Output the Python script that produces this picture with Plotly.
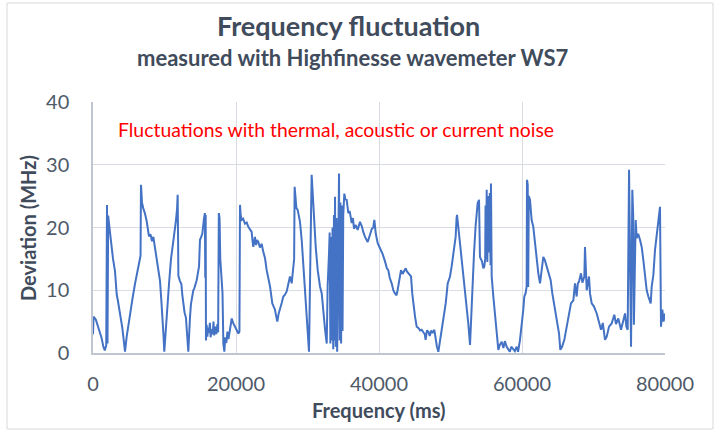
import plotly.graph_objects as go

# ---- data ----
time_ms = [
    0, 80, 400, 800, 1200, 1450, 1650, 1850, 1960, 2030, 2120, 2250, 2450, 2610, 2800, 3080, 3200, 3310, 3500, 3780,
    3950, 4100, 4300, 4475, 4710, 4900, 5175, 5500, 5870, 6100, 6340, 6570, 6650, 6710, 6850, 7040, 7250, 7510, 7700, 7830,
    8050, 8250, 8440, 8650, 8910, 9150, 9370, 9550, 9700, 9850, 9970, 10150, 10300, 10450, 10630, 10910, 11150, 11370, 11600, 11760,
    11840, 11900, 11940, 12150, 12360, 12500, 12630, 12800, 13000, 13150, 13330, 13570, 13700, 14030, 14170, 14500, 14830, 14960, 15290, 15520,
    15650, 15700, 15760, 15800, 15900, 16000, 16100, 16200, 16350, 16450, 16600, 16750, 16850, 16950, 17100, 17250, 17400, 17500, 17600, 17700,
    17800, 17900, 18000, 18110, 18180, 18230, 18370, 18500, 18650, 18800, 18950, 19100, 19250, 19400, 19600, 19860, 20100, 20330, 20480, 20560,
    20650, 20790, 21000, 21260, 21500, 21720, 21950, 22190, 22300, 22420, 22650, 22800, 22950, 23120, 23350, 23590, 23800, 24060, 24290, 24500,
    24760, 25080, 25250, 25450, 25600, 25780, 25950, 26150, 26400, 26620, 26850, 27090, 27300, 27550, 27790, 28020, 28130, 28200, 28300, 28450,
    28630, 28800, 28950, 29190, 29420, 29600, 29750, 30030, 30210, 30400, 30580, 30700, 30820, 30960, 31150, 31430, 31600, 31750, 31990, 32220,
    32460, 32690, 32820, 33010, 33100, 33200, 33300, 33400, 33500, 33600, 33700, 33800, 33850, 33950, 34050, 34150, 34300, 34410, 34500, 34600,
    34700, 34800, 34900, 35000, 35150, 35300, 35480, 35710, 35900, 36180, 36350, 36510, 36750, 37020, 37340, 37600, 37800, 38040, 38420, 38740,
    39000, 39200, 39350, 39550, 39820, 40140, 40500, 40840, 41100, 41300, 41500, 41770, 42000, 42240, 42450, 42600, 42800, 43080, 43300, 43500,
    43730, 43900, 44100, 44300, 44480, 44650, 44800, 45040, 45270, 45500, 45750, 45970, 46200, 46400, 46520, 46700, 46900, 47100, 47300, 47500,
    47740, 47930, 48100, 48300, 48670, 48990, 49330, 49610, 49930, 50160, 50490, 50720, 50850, 50910, 51090, 51330, 51570, 51930, 52270, 52490,
    52730, 53050, 53290, 53520, 53800, 53990, 54050, 54120, 54400, 54600, 54730, 54850, 54900, 55000, 55060, 55150, 55300, 55400, 55500, 55600,
    55660, 55760, 55990, 56220, 56460, 56690, 56900, 57160, 57400, 57600, 57860, 58080, 58300, 58500, 58780, 59000, 59250, 59450, 59720, 59960,
    60180, 60320, 60500, 60650, 60700, 60800, 60870, 60950, 61120, 61350, 61580, 61820, 62050, 62280, 62520, 62750, 62980, 63200, 63450, 63770,
    64010, 64240, 64620, 64940, 65180, 65360, 65600, 65920, 66250, 66570, 66850, 67180, 67300, 67410, 67640, 67800, 68000, 68250, 68450, 68720,
    68810, 68910, 69050, 69370, 69510, 69750, 70070, 70450, 70680, 71050, 71300, 71610, 71850, 72170, 72540, 72910, 73150, 73470, 73850, 74170,
    74410, 74600, 74780, 74970, 75100, 75250, 75430, 75550, 75650, 75900, 76040, 76250, 76510, 76740, 76970, 77200, 77440, 77670, 78000, 78140,
    78370, 78600, 78840, 79050, 79300, 79440, 79630, 79800, 80000,
]

deviation_mhz = [
    3.0, 5.8, 5.3, 4.0, 2.4, 1.0, 0.4, 1.2, 23.6, 1.5, 21.9, 20.5, 18.2, 17.3, 15.0, 13.0, 10.5, 9.4, 8.2, 6.4,
    5.2, 4.0, 2.0, 0.2, 2.6, 4.2, 5.9, 8.5, 11.0, 12.5, 13.6, 15.0, 15.5, 26.8, 24.0, 23.0, 22.3, 21.0, 19.5, 18.6,
    18.9, 17.8, 18.5, 16.8, 15.2, 13.4, 11.5, 8.5, 6.3, 3.0, 0.2, 3.5, 6.8, 9.0, 11.0, 15.0, 17.0, 19.0, 21.1, 23.0,
    25.2, 18.0, 12.3, 11.5, 11.0, 9.2, 7.8, 6.5, 5.6, 3.0, 0.2, 5.8, 7.8, 10.0, 10.3, 11.6, 13.8, 18.0, 19.0, 21.4,
    22.3, 12.0, 22.0, 2.0, 4.5, 2.6, 4.0, 3.2, 4.8, 2.5, 3.8, 3.0, 5.0, 2.8, 4.2, 3.0, 4.6, 3.3, 22.3, 21.5,
    15.0, 13.2, 11.0, 9.6, 5.0, 1.5, 0.2, 2.5, 1.6, 3.4, 2.2, 3.5, 4.5, 5.5, 4.8, 4.2, 3.5, 3.1, 3.4, 23.6,
    22.0, 21.2, 21.4, 20.6, 20.8, 20.1, 19.6, 19.3, 18.0, 16.9, 18.5, 17.2, 18.0, 17.7, 16.8, 17.4, 16.2, 15.1, 13.2, 12.0,
    10.6, 7.9, 7.4, 6.9, 6.0, 5.0, 6.2, 6.9, 8.0, 9.0, 9.3, 9.8, 11.0, 12.2, 11.1, 13.2, 15.0, 26.5, 25.0, 23.1,
    22.8, 21.5, 20.9, 18.0, 14.3, 11.5, 9.0, 4.2, 0.2, 15.0, 28.4, 26.0, 23.9, 19.6, 16.9, 13.2, 11.8, 10.6, 9.5, 6.3,
    3.7, 1.5, 10.8, 15.9, 19.2, 1.5, 18.5, 2.0, 20.0, 0.6, 22.0, 2.0, 24.9, 1.0, 21.5, 0.2, 26.5, 28.6, 2.0, 24.0,
    1.5, 23.5, 3.5, 22.0, 25.4, 24.5, 24.4, 22.3, 22.6, 20.7, 21.5, 19.8, 20.4, 19.6, 20.9, 20.2, 19.3, 18.5, 17.7, 19.1,
    19.8, 20.0, 21.2, 19.0, 17.5, 16.7, 15.8, 14.6, 13.5, 13.2, 12.0, 11.1, 10.0, 9.5, 9.2, 10.0, 11.1, 13.2, 12.6, 13.0,
    13.5, 13.0, 12.7, 12.5, 12.2, 9.5, 7.9, 5.8, 4.2, 4.0, 3.6, 3.7, 3.3, 3.0, 2.1, 3.6, 3.4, 2.7, 3.6, 3.2,
    3.7, 1.8, 1.0, 0.2, 2.9, 5.8, 7.9, 11.1, 12.2, 13.8, 16.4, 18.5, 21.5, 22.0, 20.1, 17.5, 14.8, 11.6, 7.9, 4.7,
    1.3, 10.6, 15.9, 20.4, 23.9, 24.4, 18.0, 15.3, 14.6, 13.5, 13.8, 15.0, 23.5, 15.0, 26.0, 14.5, 25.0, 16.0, 25.5, 14.0,
    27.0, 12.2, 9.0, 6.3, 3.7, 0.5, 1.3, 1.8, 0.8, 1.9, 1.0, 0.5, 0.2, 1.0, 0.5, 0.3, 1.0, 0.2, 2.1, 4.2,
    6.9, 9.0, 9.5, 10.6, 27.6, 26.8, 10.5, 25.0, 24.4, 21.2, 20.1, 17.5, 14.3, 12.7, 11.1, 13.2, 15.3, 14.8, 13.8, 12.7,
    11.6, 9.5, 6.9, 5.3, 3.1, 0.5, 1.0, 2.1, 4.2, 5.8, 7.9, 8.4, 10.5, 11.1, 9.0, 11.0, 11.5, 12.7, 11.2, 12.2,
    16.9, 13.0, 10.0, 12.2, 9.5, 7.9, 7.4, 6.3, 5.3, 3.7, 4.8, 2.1, 2.6, 4.2, 4.7, 6.1, 4.6, 5.5, 3.7, 5.3,
    6.3, 4.2, 3.7, 29.2, 18.0, 1.0, 26.0, 22.0, 4.5, 21.2, 18.3, 19.0, 18.0, 16.9, 14.8, 12.7, 10.0, 9.0, 7.9, 10.6,
    12.4, 16.4, 19.1, 20.5, 23.3, 4.2, 6.9, 5.0, 6.3,
]

x_ticks = [0, 20000, 40000, 60000, 80000]
y_ticks = [0, 10, 20, 30, 40]

title_text = "Frequency fluctuation"
subtitle_text = "measured with Highfinesse wavemeter WS7"
note_text = "Fluctuations with thermal, acoustic or current noise"
x_title = "Frequency (ms)"
y_title = "Deviation (MHz)"

FONT = "Lato"
TXT = "#404B5C"
TICK = "#4F5A69"
GRID = "#D9DDE3"

fig = go.Figure()
fig.add_trace(go.Scatter(
    x=time_ms, y=deviation_mhz, mode="lines",
    line=dict(color="#4472C4", width=2),
    showlegend=False, hoverinfo="skip",
))

fig.update_layout(
    width=720, height=432,
    margin=dict(l=93, r=55, t=102, b=79),
    paper_bgcolor="white", plot_bgcolor="white",
    font=dict(family=FONT, color=TICK),
    showlegend=False,
)

fig.update_xaxes(
    range=[0, 80000], tickvals=x_ticks, ticktext=[str(v) for v in x_ticks],
    showgrid=True, gridcolor=GRID, gridwidth=1,
    showline=True, linecolor="#BFC6D0", linewidth=1.5,
    zeroline=False, ticks="", ticklabelstandoff=12,
    tickfont=dict(family=FONT, size=20, color=TICK),
)
fig.update_yaxes(
    range=[0, 40], tickvals=y_ticks, ticktext=[str(v) for v in y_ticks],
    showgrid=True, gridcolor=GRID, gridwidth=1,
    showline=True, linecolor="#BFC6D0", linewidth=1.5,
    zeroline=False, ticks="", ticklabelstandoff=18,
    tickfont=dict(family=FONT, size=20, color=TICK),
)

def px_x(p):
    return (p - 93) / 572.0

def px_y(p):
    return (353 - p) / 251.0

annotations = [
    dict(text="<b>" + title_text + "</b>", x=px_x(348), y=px_y(25), xref="paper", yref="paper",
         xanchor="center", yanchor="middle", showarrow=False,
         font=dict(family=FONT, size=27, color=TXT)),
    dict(text="<b>" + subtitle_text + "</b>", x=px_x(352), y=px_y(58), xref="paper", yref="paper",
         xanchor="center", yanchor="middle", showarrow=False,
         font=dict(family=FONT, size=22, color=TXT)),
    dict(text=note_text, x=px_x(116), y=px_y(129), xref="paper", yref="paper",
         xanchor="left", yanchor="middle", showarrow=False,
         font=dict(family=FONT, size=19.4, color="#FF0000")),
    dict(text="<b>" + x_title + "</b>", x=px_x(379), y=px_y(410), xref="paper", yref="paper",
         xanchor="center", yanchor="middle", showarrow=False,
         font=dict(family=FONT, size=20, color=TXT)),
    dict(text="<b>" + y_title + "</b>", x=px_x(28), y=px_y(228), xref="paper", yref="paper",
         xanchor="center", yanchor="middle", showarrow=False, textangle=-90,
         font=dict(family=FONT, size=20, color=TXT)),
]
fig.update_layout(annotations=annotations)

fig.add_shape(type="rect", xref="paper", yref="paper",
              x0=px_x(7), x1=px_x(713), y0=px_y(429), y1=px_y(3),
              line=dict(color="#D9D9D9", width=1), fillcolor="rgba(0,0,0,0)", layer="below")

fig.write_html("out.html", config={"displayModeBar": False},
               post_script="document.body.style.margin='0';")
